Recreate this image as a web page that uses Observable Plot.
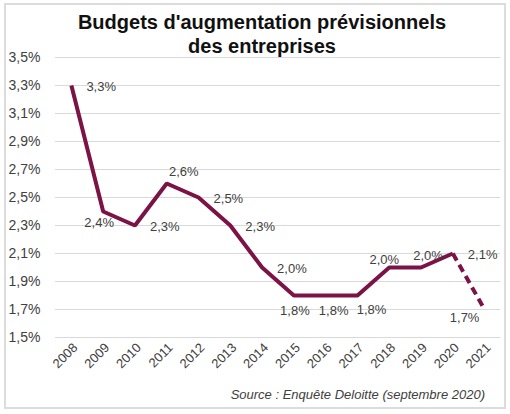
<!DOCTYPE html>
<html>
<head>
<meta charset="utf-8">
<script src="https://cdn.jsdelivr.net/npm/d3@7"></script>
<script src="https://cdn.jsdelivr.net/npm/@observablehq/plot@0.6"></script>
<style>
  html, body { margin: 0; padding: 0; background: #fff; }
  #frame {
    position: absolute; left: 4px; top: 3px; width: 498px; height: 402px;
    border: 2px solid #dcdcdc; box-sizing: content-box; background: #fff;
  }
  #title {
    position: absolute; left: 0; top: 10px; width: 524px; text-align: center;
    font-family: "Liberation Sans", Arial, sans-serif; font-weight: bold;
    font-size: 20px; line-height: 24px; color: #111;
  }
  #chart { position: absolute; left: 0; top: 50px; }
  #source {
    position: absolute; right: 25px; top: 387px;
    font-family: "Liberation Sans", Arial, sans-serif; font-style: italic;
    font-size: 13px; color: #404040;
  }
</style>
</head>
<body>
<div id="frame"></div>
<div id="title">Budgets d'augmentation prévisionnels<br>des entreprises</div>
<div id="chart"></div>
<div id="source">Source : Enquête Deloitte (septembre 2020)</div>
<script>
const years = [2008, 2009, 2010, 2011, 2012, 2013, 2014, 2015, 2016, 2017, 2018, 2019, 2020, 2021];
const values = [3.3, 2.4, 2.3, 2.6, 2.5, 2.3, 2.0, 1.8, 1.8, 1.8, 2.0, 2.0, 2.1, 1.7];
const labelPlace = ["right", "belowLeft", "right", "upRight", "right", "right", "right",
                    "below", "belowR", "belowRR", "aboveL", "aboveR", "right", "farBelowLeft"];
const yTicks = [1.5, 1.7, 1.9, 2.1, 2.3, 2.5, 2.7, 2.9, 3.1, 3.3, 3.5];

const data = years.map((y, i) => ({year: y, value: values[i], place: labelPlace[i]}));
const solid = data.filter(d => d.year <= 2020);
const dashed = data.filter(d => d.year >= 2020);
const fmt = v => v.toFixed(1).replace(".", ",") + "%";

const labelStyle = {
  x: "year", y: "value", text: d => fmt(d.value),
  fill: "#404040", fontSize: 13, fontFamily: "Liberation Sans, Arial, sans-serif"
};
const placements = {
  right: {textAnchor: "start", dx: 15, dy: 1},
  belowLeft: {textAnchor: "middle", dx: -4, dy: 11},
  upRight: {textAnchor: "middle", dx: 17, dy: -12},
  below: {textAnchor: "middle", dx: 1, dy: 15},
  belowR: {textAnchor: "middle", dx: 8, dy: 15},
  belowRR: {textAnchor: "middle", dx: 14, dy: 14},
  aboveL: {textAnchor: "middle", dx: -5, dy: -8},
  aboveR: {textAnchor: "middle", dx: 7, dy: -12},
  farBelowLeft: {textAnchor: "middle", dx: -20, dy: 8}
};
const labelMarks = Object.entries(placements).map(([k, opts]) =>
  Plot.text(data.filter(d => d.place === k), {...labelStyle, ...opts})
);

const chart = Plot.plot({
  width: 510,
  height: 330,
  marginLeft: 55,
  marginRight: 10,
  marginTop: 7,
  marginBottom: 43,
  style: {fontFamily: "Liberation Sans, Arial, sans-serif", background: "transparent"},
  x: {type: "point", domain: years, padding: 0.5, round: false, label: null},
  y: {domain: [1.5, 3.5], label: null},
  marks: [
    Plot.gridY(yTicks, {stroke: "#d9d9d9", strokeOpacity: 1, strokeWidth: 1}),
    Plot.axisY(yTicks, {tickSize: 0, tickPadding: 0, textAnchor: "start", dx: -47,
      tickFormat: fmt, fontSize: 14, fill: "#404040", label: null}),
    Plot.axisX(years, {tickSize: 0, tickRotate: -45, tickPadding: 6, fontSize: 13,
      tickFormat: d => String(d), fill: "#404040", label: null, dx: 4, dy: 2}),
    Plot.line(solid, {x: "year", y: "value", stroke: "#7b1346", strokeWidth: 4,
      strokeLinejoin: "miter", strokeLinecap: "butt"}),
    Plot.line(dashed, {x: "year", y: "value", stroke: "#7b1346", strokeWidth: 4,
      strokeDasharray: "8,5", strokeLinecap: "butt"}),
    ...labelMarks
  ]
});
document.getElementById("chart").appendChild(chart);
</script>
</body>
</html>
